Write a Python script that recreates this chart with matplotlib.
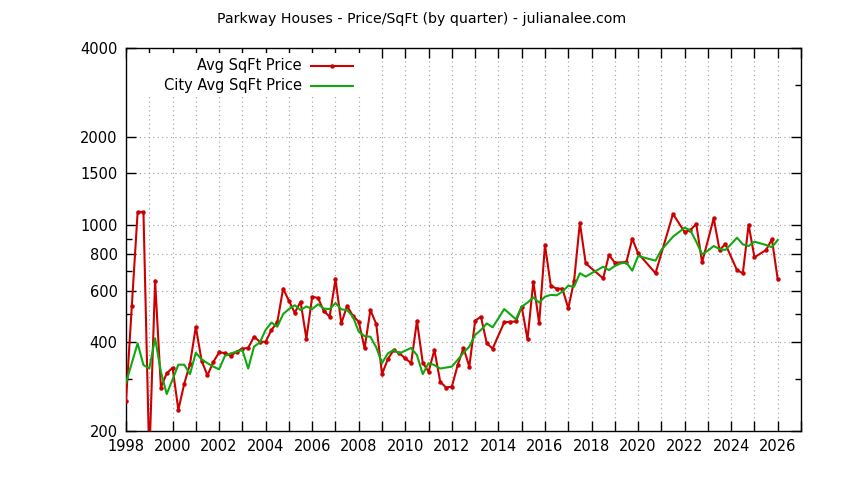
import matplotlib
matplotlib.use("Agg")
import matplotlib.pyplot as plt
from matplotlib.patches import Rectangle
from matplotlib.ticker import FixedLocator, NullFormatter, MultipleLocator

# Avg SqFt price (Parkway), by quarter
avg_years = [1998.0, 1998.25, 1998.5, 1998.75, 1999.0, 1999.25, 1999.5, 1999.75,
             2000.0, 2000.25, 2000.5, 2000.75, 2001.0, 2001.25, 2001.5, 2001.75,
             2002.0, 2002.25, 2002.5, 2002.75, 2003.0, 2003.25, 2003.5, 2003.75,
             2004.0, 2004.25, 2004.5, 2004.75, 2005.0, 2005.25, 2005.5, 2005.75,
             2006.0, 2006.25, 2006.5, 2006.75, 2007.0, 2007.25, 2007.5, 2007.75,
             2008.0, 2008.25, 2008.5, 2008.75, 2009.0, 2009.25, 2009.5, 2009.75,
             2010.0, 2010.25, 2010.5, 2010.75, 2011.0, 2011.25, 2011.5, 2011.75,
             2012.0, 2012.25, 2012.5, 2012.75, 2013.0, 2013.25, 2013.5, 2013.75,
             2014.25, 2014.5, 2014.75, 2015.0, 2015.25, 2015.5, 2015.75,
             2016.0, 2016.25, 2016.5, 2016.75, 2017.0, 2017.25, 2017.5, 2017.75,
             2018.5, 2018.75, 2019.0, 2019.5, 2019.75, 2020.0, 2020.75,
             2021.5, 2022.0, 2022.25, 2022.5, 2022.75, 2023.25, 2023.5, 2023.75,
             2024.25, 2024.5, 2024.75, 2025.0, 2025.5, 2025.75, 2026.0]
avg_price = [253, 532, 1109, 1109, 160, 648, 281, 314,
             328, 236, 289, 338, 452, 346, 309, 343,
             370, 368, 360, 372, 381, 383, 418, 402,
             402, 441, 468, 609, 554, 504, 550, 412,
             572, 566, 511, 489, 655, 464, 532, 492,
             470, 382, 515, 462, 312, 351, 377, 367,
             353, 340, 473, 341, 318, 377, 294, 281,
             283, 335, 383, 331, 474, 489, 397, 381,
             468, 470, 471, 529, 410, 643, 464,
             857, 623, 609, 609, 522, 646, 1020, 742,
             660, 793, 746, 750, 900, 803, 687,
             1092, 948, 964, 1010, 748, 1056, 824, 863,
             704, 687, 1004, 778, 824, 896, 655]

# City avg SqFt price, by quarter
city_years = [1998.0, 1998.5, 1998.75, 1999.0, 1999.25, 1999.5, 1999.75,
              2000.0, 2000.25, 2000.5, 2000.75, 2001.0, 2001.25, 2001.5, 2001.75,
              2002.0, 2002.25, 2002.5, 2002.75, 2003.0, 2003.25, 2003.5, 2003.75,
              2004.0, 2004.25, 2004.5, 2004.75, 2005.0, 2005.25, 2005.5, 2005.75,
              2006.0, 2006.25, 2006.5, 2006.75, 2007.0, 2007.25, 2007.5, 2007.75,
              2008.0, 2008.25, 2008.5, 2008.75, 2009.0, 2009.25, 2009.5, 2009.75,
              2010.0, 2010.25, 2010.5, 2010.75, 2011.0, 2011.25, 2011.5,
              2012.0, 2012.25, 2012.5, 2012.75, 2013.0, 2013.25, 2013.5, 2013.75,
              2014.0, 2014.25, 2014.5, 2014.75, 2015.0, 2015.25, 2015.5, 2015.75,
              2016.0, 2016.25, 2016.5, 2016.75, 2017.0, 2017.25, 2017.5, 2017.75,
              2018.0, 2018.25, 2018.5, 2018.75, 2019.0, 2019.25, 2019.5, 2019.75,
              2020.0, 2020.75, 2021.0, 2021.5, 2022.0, 2022.25, 2022.5, 2022.75,
              2023.0, 2023.25, 2023.5, 2023.75, 2024.0, 2024.25, 2024.5, 2024.75,
              2025.0, 2025.5, 2025.75, 2026.0]
city_price = [292, 397, 335, 326, 413, 318, 267,
              299, 336, 336, 312, 369, 350, 340, 331,
              324, 360, 367, 372, 377, 326, 387, 400,
              441, 467, 452, 499, 519, 535, 515, 530,
              519, 539, 521, 519, 544, 518, 515, 489,
              435, 420, 418, 385, 340, 367, 377, 367,
              375, 383, 362, 312, 340, 335, 326,
              331, 349, 369, 387, 424, 441, 464, 450,
              483, 519, 499, 479, 529, 546, 569, 546,
              572, 580, 578, 595, 623, 618, 687, 669,
              687, 704, 723, 704, 727, 742, 746, 701,
              786, 758, 824, 914, 981, 960, 879, 796,
              820, 850, 830, 824, 863, 907, 861, 850,
              879, 857, 842, 891]

y_major = [200, 400, 600, 800, 1000, 1500, 2000, 4000]
y_minor = [300, 500, 700, 900, 3000]

plt.rcParams['font.family'] = ['DejaVu Sans']
fig = plt.figure(figsize=(8.44, 4.8), dpi=100)
ax = fig.add_axes([126 / 844, 49 / 480, 675 / 844, 383 / 480])

red = '#cc0000'
green = '#10a810'

ax.plot(avg_years, avg_price, color=red, lw=1.5, marker='o', ms=2.2, zorder=3)
ax.plot(city_years, city_price, color=green, lw=1.5, zorder=3)

ax.set_yscale('log')
ax.set_ylim(200, 4000)
ax.set_xlim(1998, 2027)

ax.yaxis.set_major_locator(FixedLocator(y_major))
ax.yaxis.set_minor_locator(FixedLocator(y_minor))
ax.yaxis.set_major_formatter(plt.FuncFormatter(lambda v, p: f"{int(v)}"))
ax.yaxis.set_minor_formatter(NullFormatter())
ax.xaxis.set_major_locator(MultipleLocator(2))
ax.xaxis.set_minor_locator(MultipleLocator(1))

ax.tick_params(which='both', direction='in', top=True, right=True, labelsize=10.5)
ax.tick_params(which='major', length=7, width=1)
ax.tick_params(which='minor', length=4, width=1)
ax.tick_params(axis='x', which='minor', length=7)
ax.tick_params(axis='x', pad=6)
ax.tick_params(axis='y', pad=6)

ax.set_axisbelow(True)
ax.grid(True, which='major', color='#a0a0a0', lw=0.8, linestyle=(0, (1, 3)))
ax.grid(True, which='minor', axis='x', color='#a0a0a0', lw=0.8, linestyle=(0, (1, 3)))
for s in ax.spines.values():
    s.set_linewidth(1.0)

# opaque key box, gnuplot style
ax.add_patch(Rectangle((0, 0.877), 0.354, 0.11, transform=ax.transAxes,
                       facecolor='white', edgecolor='none', zorder=1))
ax.text(0.2607, 0.9538, "Avg SqFt Price", transform=ax.transAxes,
        ha='right', va='center', fontsize=10.5)
ax.text(0.2607, 0.9016, "City Avg SqFt Price", transform=ax.transAxes,
        ha='right', va='center', fontsize=10.5)
ax.plot([0.2736, 0.3368], [0.9538, 0.9538], color=red, lw=1.5,
        transform=ax.transAxes, zorder=4, clip_on=False)
ax.plot([0.305], [0.9538], color=red, marker='o', ms=2.2,
        transform=ax.transAxes, zorder=4, clip_on=False)
ax.plot([0.2736, 0.3368], [0.9016, 0.9016], color=green, lw=1.5,
        transform=ax.transAxes, zorder=4, clip_on=False)

fig.text(0.5, 1 - 19 / 480, "Parkway Houses - Price/SqFt (by quarter) - julianalee.com",
         ha='center', va='center', fontsize=10.2)

fig.savefig("out.png", dpi=100)
